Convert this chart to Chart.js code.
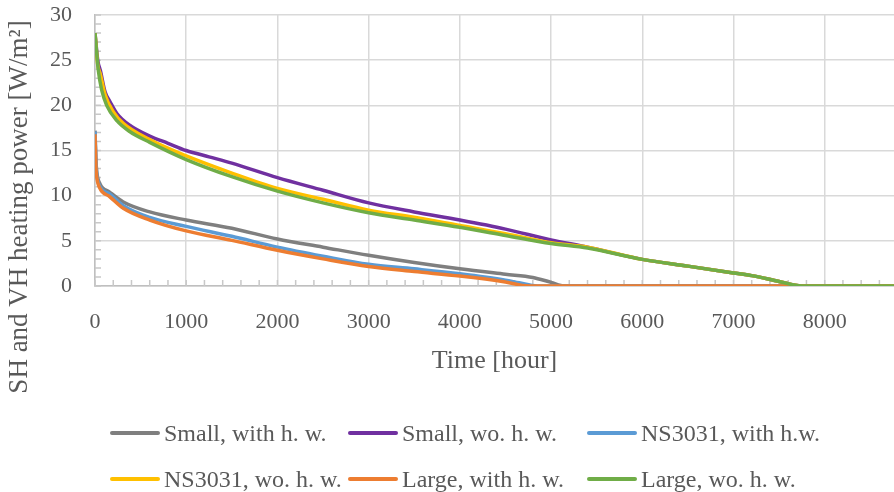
<!DOCTYPE html>
<html>
<head>
<meta charset="utf-8">
<script src="https://cdn.jsdelivr.net/npm/chart.js@4.4.1/dist/chart.umd.min.js"></script>
<style>
    body { margin: 0; background: #fff; }
    #wrap { position: relative; width: 894px; height: 492px; overflow: hidden; }
    #chart { position: absolute; left: 0; top: 0; }
    .legend { font-family: "Liberation Serif", serif; font-size: 24px; color: #595959; }
    .legend .item { position: absolute; display: flex; align-items: center; white-space: nowrap; height: 30px; }
    .legend .swatch { width: 50px; height: 4px; margin-right: 4px; border-radius: 2px; }
</style>
</head>
<body>
<div id="wrap">
    <canvas id="chart" width="894" height="492"></canvas>
    <div class="legend" id="legend"></div>
</div>
<script>
// axis labels
const xTitle = 'Time [hour]';
const yTitle = 'SH and VH heating power [W/m²]';

// series names, legend order
const seriesNames = [
    'Small, with h. w.', 'Small, wo. h. w.', 'NS3031, with h.w.',
    'NS3031, wo. h. w.', 'Large, with h. w.', 'Large, wo. h. w.'
];
const seriesColors = ['#7f7f7f', '#7030a0', '#5b9bd5', '#ffc000', '#ed7d31', '#70ad47'];

// duration curves (hours, W/m2)
const smallWithHours = [0, 10, 20, 55, 160, 310, 600, 1000, 1500, 2000, 2500, 3000, 3500, 4000, 4500, 4800, 5000, 5150, 8760];
const smallWithValues = [17.2, 14.0, 12.6, 11.3, 10.4, 9.3, 8.2, 7.3, 6.4, 5.2, 4.3, 3.4, 2.6, 1.9, 1.3, 0.95, 0.4, 0, 0];

const smallWoHours = [0, 30, 60, 110, 165, 240, 380, 600, 800, 1000, 1250, 1500, 2000, 2500, 3000, 3500, 4000, 4500, 5000, 5400, 6000, 6500, 7000, 7200, 7500, 7750, 8760];
const smallWoValues = [28.0, 25.0, 23.8, 21.5, 20.4, 19.1, 17.8, 16.6, 15.8, 15.0, 14.3, 13.6, 12.0, 10.6, 9.2, 8.2, 7.3, 6.3, 5.1, 4.3, 2.95, 2.2, 1.45, 1.15, 0.5, 0, 0];

const nsWithHours = [0, 10, 20, 55, 160, 310, 600, 1000, 1500, 2000, 2500, 3000, 3500, 4000, 4500, 4650, 4850, 8760];
const nsWithValues = [17.1, 13.6, 12.3, 11.0, 10.2, 8.9, 7.6, 6.6, 5.5, 4.3, 3.3, 2.4, 1.9, 1.35, 0.65, 0.35, 0, 0];

const nsWoHours = [0, 30, 60, 110, 200, 310, 600, 1000, 1500, 2000, 2500, 3000, 3500, 4000, 4500, 5000, 5400, 6000, 6500, 7000, 7200, 7500, 7750, 8760];
const nsWoValues = [28.0, 24.5, 23.4, 21.2, 19.3, 18.0, 16.2, 14.4, 12.5, 10.8, 9.6, 8.4, 7.6, 6.7, 5.8, 4.8, 4.3, 2.95, 2.2, 1.45, 1.15, 0.5, 0, 0];

const largeWithHours = [0, 10, 20, 55, 160, 310, 600, 1000, 1500, 2000, 2500, 3000, 3500, 4000, 4500, 4750, 8760];
const largeWithValues = [16.8, 13.2, 12.0, 10.8, 9.9, 8.6, 7.3, 6.1, 5.05, 3.95, 3.0, 2.15, 1.6, 1.1, 0.45, 0, 0];

const largeWoHours = [0, 36, 73, 128, 240, 380, 600, 1000, 1500, 2000, 2500, 3000, 3500, 4000, 4500, 5000, 5400, 6000, 6500, 7000, 7200, 7500, 7750, 8760];
const largeWoValues = [28.0, 23.9, 21.7, 20.0, 18.3, 17.1, 15.9, 14.0, 12.1, 10.5, 9.2, 8.1, 7.3, 6.5, 5.6, 4.7, 4.2, 2.95, 2.2, 1.45, 1.15, 0.5, 0, 0];

const seriesHours = [smallWithHours, smallWoHours, nsWithHours, nsWoHours, largeWithHours, largeWoHours];
const seriesValues = [smallWithValues, smallWoValues, nsWithValues, nsWoValues, largeWithValues, largeWoValues];

// axis ranges and ticks
const xMax = 8760;
const xTickValues = [0, 1000, 2000, 3000, 4000, 5000, 6000, 7000, 8000];
const xMinorStep = 200;
const yMax = 30;
const yTickValues = [0, 5, 10, 15, 20, 25, 30];
const yMinorStep = 1;

const textColor = '#595959';
const fontFamily = '"Liberation Serif", "Times New Roman", serif';

// draws the small inner ticks and the y title
const extras = {
    id: 'extras',
    beforeDatasetsDraw(chart) {
        const ctx = chart.ctx;
        const x = chart.scales.x, y = chart.scales.y;
        const area = chart.chartArea;
        ctx.save();
        ctx.strokeStyle = '#c8c8c8';
        ctx.lineWidth = 1.5;
        ctx.beginPath();
        for (let h = 0; h <= xMax; h += xMinorStep) {
            const px = x.getPixelForValue(h);
            ctx.moveTo(px, area.bottom);
            ctx.lineTo(px, area.bottom - 6);
        }
        for (let v = 0; v <= yMax; v += yMinorStep) {
            const py = y.getPixelForValue(v);
            ctx.moveTo(area.left, py);
            ctx.lineTo(area.left + 6, py);
        }
        ctx.stroke();
        ctx.restore();
    },
    afterDraw(chart) {
        const ctx = chart.ctx;
        ctx.save();
        ctx.translate(20, 207);
        ctx.rotate(-Math.PI / 2);
        ctx.textAlign = 'center';
        ctx.textBaseline = 'middle';
        ctx.fillStyle = textColor;
        ctx.font = '27px ' + fontFamily;
        ctx.fillText(yTitle, 0, 0);
        ctx.restore();
    }
};

const datasets = seriesNames.map((name, i) => ({
    label: name,
    data: seriesHours[i].map((h, k) => ({ x: h, y: seriesValues[i][k] })),
    borderColor: seriesColors[i],
    backgroundColor: seriesColors[i],
    borderWidth: 3.5,
    pointRadius: 0,
    cubicInterpolationMode: 'monotone',
    order: seriesNames.length - i   // later series on top
}));

new Chart(document.getElementById('chart'), {
    type: 'line',
    data: { datasets },
    options: {
        responsive: false,
        animation: false,
        layout: { autoPadding: false, padding: { top: 15, right: 0, left: 0, bottom: 115 } },
        plugins: {
            legend: { display: false },
            tooltip: { enabled: false }
        },
        scales: {
            x: {
                type: 'linear',
                min: 0,
                max: xMax,
                afterBuildTicks(scale) { scale.ticks = xTickValues.map(v => ({ value: v })); },
                afterFit(scale) {
                    scale.height = 91;
                    scale.paddingLeft = 0;
                    scale.paddingRight = 0;
                },
                ticks: {
                    autoSkip: false,
                    maxRotation: 0,
                    padding: 23,
                    color: textColor,
                    font: { family: fontFamily, size: 22 },
                    callback: v => String(v)
                },
                grid: { color: '#d9d9d9', lineWidth: 1.5, drawTicks: false },
                border: { color: '#bfbfbf', width: 1.5 },
                title: {
                    display: true,
                    text: xTitle,
                    color: textColor,
                    font: { family: fontFamily, size: 26 },
                    padding: { top: 12, bottom: 0 }
                }
            },
            y: {
                min: 0,
                max: yMax,
                afterBuildTicks(scale) { scale.ticks = yTickValues.map(v => ({ value: v })); },
                ticks: {
                    padding: 23,
                    color: textColor,
                    font: { family: fontFamily, size: 22 },
                    callback: v => String(v)
                },
                grid: { color: '#d9d9d9', lineWidth: 1.5, drawTicks: false },
                border: { color: '#bfbfbf', width: 1.5 },
                afterFit(scale) {
                    // fixed axis band; top label may poke above the plot like the original
                    scale.width = 95;
                    scale.paddingTop = 0;
                    scale.paddingBottom = 0;
                }
            }
        }
    },
    plugins: [extras]
});

// legend laid out as a 3 x 2 grid like the original
const legendCols = [110, 348, 587];
const legendRows = [433, 479];
document.getElementById('legend').innerHTML = seriesNames.map((name, i) => `
    <div class="item" style="left:${legendCols[i % 3]}px; top:${legendRows[Math.floor(i / 3)] - 15}px;">
        <span class="swatch" style="background:${seriesColors[i]}"></span>${name}
    </div>
`).join('');
</script>
</body>
</html>
